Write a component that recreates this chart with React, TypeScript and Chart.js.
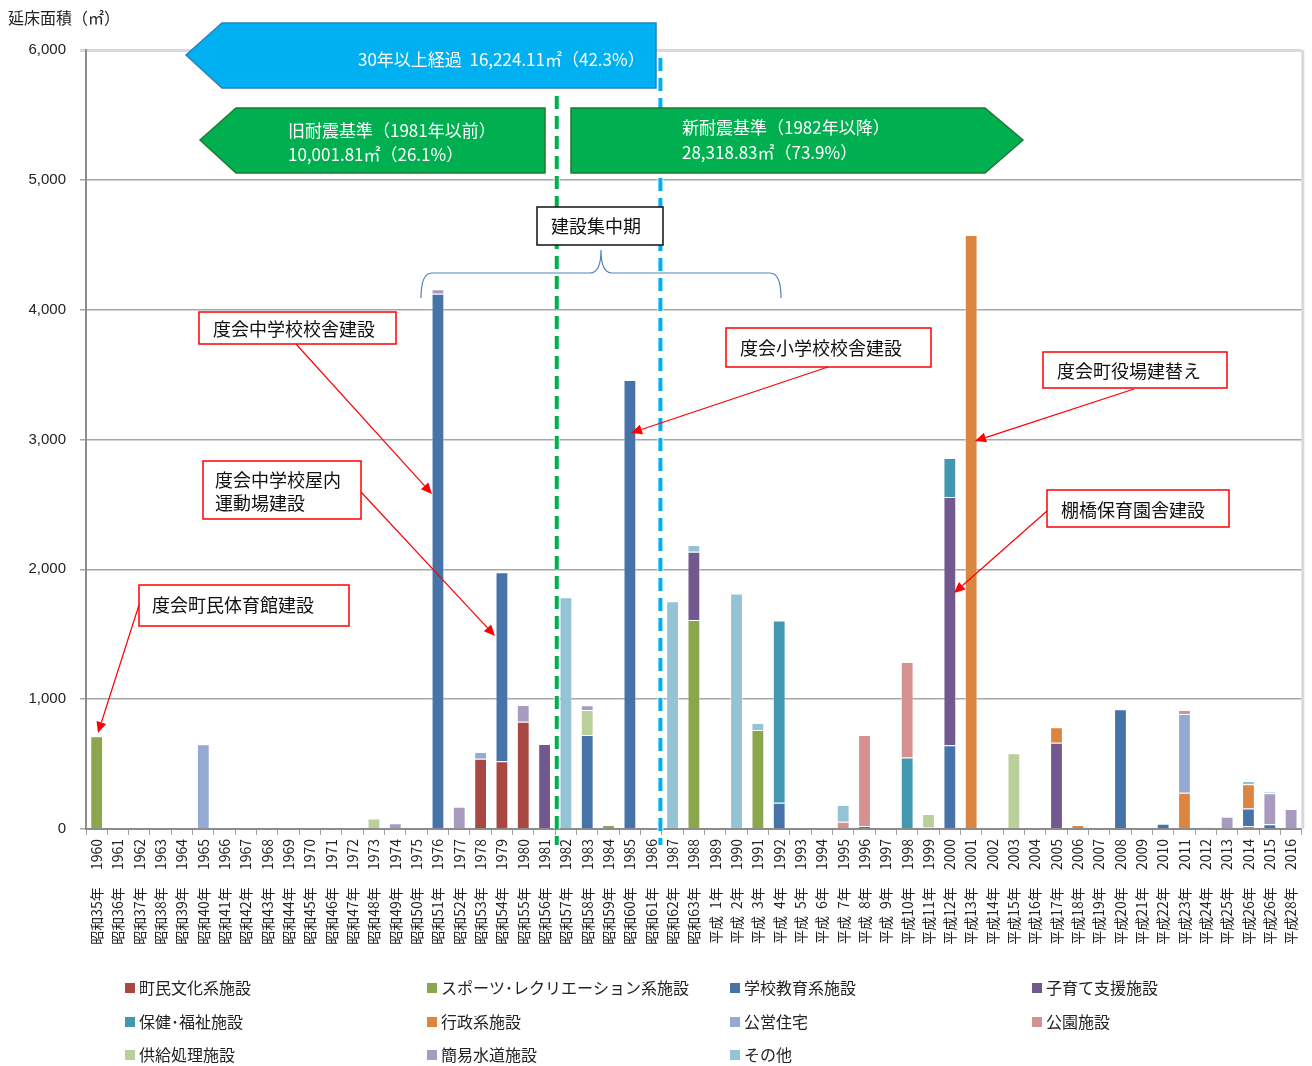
import { useEffect, useRef } from 'react';
import { Chart, registerables } from 'chart.js';

Chart.register(...registerables);

// ---------- DATA ----------
const years = [
  1960, 1961, 1962, 1963, 1964, 1965, 1966, 1967, 1968, 1969,
  1970, 1971, 1972, 1973, 1974, 1975, 1976, 1977, 1978, 1979,
  1980, 1981, 1982, 1983, 1984, 1985, 1986, 1987, 1988, 1989,
  1990, 1991, 1992, 1993, 1994, 1995, 1996, 1997, 1998, 1999,
  2000, 2001, 2002, 2003, 2004, 2005, 2006, 2007, 2008, 2009,
  2010, 2011, 2012, 2013, 2014, 2015, 2016,
];

const eraLabels = [
  '昭和35年', '昭和36年', '昭和37年', '昭和38年', '昭和39年', '昭和40年', '昭和41年', '昭和42年', '昭和43年', '昭和44年',
  '昭和45年', '昭和46年', '昭和47年', '昭和48年', '昭和49年', '昭和50年', '昭和51年', '昭和52年', '昭和53年', '昭和54年',
  '昭和55年', '昭和56年', '昭和57年', '昭和58年', '昭和59年', '昭和60年', '昭和61年', '昭和62年', '昭和63年', '平成\u20021年',
  '平成\u20022年', '平成\u20023年', '平成\u20024年', '平成\u20025年', '平成\u20026年', '平成\u20027年', '平成\u20028年', '平成\u20029年', '平成10年', '平成11年',
  '平成12年', '平成13年', '平成14年', '平成15年', '平成16年', '平成17年', '平成18年', '平成19年', '平成20年', '平成21年',
  '平成22年', '平成23年', '平成24年', '平成25年', '平成26年', '平成26年', '平成28年',
];

const yTicks = [0, 1000, 2000, 3000, 4000, 5000, 6000];

// floor area (㎡) by year, per facility category
const chominBunka: Record<number, number> = { 1978: 542, 1979: 521, 1980: 827 };
const sports: Record<number, number> = { 1960: 714, 1984: 31, 1988: 1610, 1991: 763, 2014: 23 };
const gakko: Record<number, number> = {
  1976: 4122, 1979: 1457, 1983: 724, 1985: 3459, 1992: 203, 1996: 23,
  2000: 645, 2008: 922, 2010: 41, 2014: 134, 2015: 36,
};
const kosodate: Record<number, number> = { 1981: 655, 1988: 526, 2000: 1913, 2005: 665 };
const hoken: Record<number, number> = { 1992: 1402, 1998: 550, 2000: 300 };
const gyosei: Record<number, number> = { 2001: 4576, 2005: 118, 2006: 31, 2011: 280, 2014: 187 };
const koei: Record<number, number> = { 1965: 652, 1978: 51, 2011: 606 };
const koen: Record<number, number> = { 1995: 56, 1996: 701, 1998: 737, 1999: 15, 2011: 31 };
const kyokyu: Record<number, number> = { 1973: 80, 1983: 193, 1999: 100, 2003: 583 };
const suido: Record<number, number> = {
  1972: 10, 1974: 45, 1976: 36, 1977: 172, 1980: 128, 1983: 36,
  2012: 12, 2013: 95, 2015: 239, 2016: 154,
};
const sonota: Record<number, number> = {
  1982: 1785, 1987: 1754, 1988: 52, 1990: 1813, 1991: 54, 1995: 129, 2014: 26, 2015: 12,
};

const seriesNames = [
  '町民文化系施設', 'スポーツ･レクリエーション系施設', '学校教育系施設', '子育て支援施設',
  '保健･福祉施設', '行政系施設', '公営住宅', '公園施設',
  '供給処理施設', '簡易水道施設', 'その他',
];
const seriesValues = [chominBunka, sports, gakko, kosodate, hoken, gyosei, koei, koen, kyokyu, suido, sonota];

// ---------- STYLE ----------
const seriesColors = [
  '#A94743', '#8BA64C', '#4673A8', '#71598F',
  '#4298AF', '#DC8541', '#95AAD2', '#D49190',
  '#BACF99', '#A99BBF', '#93C3D5',
];

const JP = "'Noto Sans CJK JP', 'Noto Sans', sans-serif";

function toSeries(m: Record<number, number>) {
  return years.map((y) => (m[y] !== undefined ? m[y] : null));
}

function redArrow(ctx: CanvasRenderingContext2D, x1: number, y1: number, x2: number, y2: number) {
  const ang = Math.atan2(y2 - y1, x2 - x1);
  const len = 11;
  const w = 5;
  const bx = x2 - Math.cos(ang) * len;
  const by = y2 - Math.sin(ang) * len;
  ctx.save();
  ctx.strokeStyle = '#FF0000';
  ctx.fillStyle = '#FF0000';
  ctx.lineWidth = 1.2;
  ctx.beginPath();
  ctx.moveTo(x1, y1);
  ctx.lineTo(bx, by);
  ctx.stroke();
  ctx.beginPath();
  ctx.moveTo(x2, y2);
  ctx.lineTo(bx + Math.sin(ang) * w, by - Math.cos(ang) * w);
  ctx.lineTo(bx - Math.sin(ang) * w, by + Math.cos(ang) * w);
  ctx.closePath();
  ctx.fill();
  ctx.restore();
}

function callout(ctx: CanvasRenderingContext2D, x: number, y: number, w: number, h: number, lines: string[], tx: number, ty: number[], border = '#FF0000') {
  ctx.save();
  ctx.fillStyle = '#FFFFFF';
  ctx.fillRect(x, y, w, h);
  ctx.strokeStyle = border;
  ctx.lineWidth = 1.5;
  ctx.strokeRect(x, y, w, h);
  ctx.fillStyle = '#111';
  ctx.font = `18px ${JP}`;
  ctx.textAlign = 'left';
  ctx.textBaseline = 'middle';
  lines.forEach((l, i) => ctx.fillText(l, tx, ty[i]));
  ctx.restore();
}

function pentagon(ctx: CanvasRenderingContext2D, pts: number[][], fill: string, stroke: string) {
  ctx.save();
  ctx.beginPath();
  pts.forEach((p, i) => (i === 0 ? ctx.moveTo(p[0], p[1]) : ctx.lineTo(p[0], p[1])));
  ctx.closePath();
  ctx.fillStyle = fill;
  ctx.fill();
  ctx.strokeStyle = stroke;
  ctx.lineWidth = 1.5;
  ctx.stroke();
  ctx.restore();
}

function dashed(ctx: CanvasRenderingContext2D, x: number, y1: number, y2: number, color: string) {
  ctx.save();
  ctx.setLineDash([13, 7]);
  ctx.lineCap = 'butt';
  ctx.strokeStyle = 'rgba(255,255,255,0.9)';
  ctx.lineWidth = 6;
  ctx.beginPath();
  ctx.moveTo(x, y1);
  ctx.lineTo(x, y2);
  ctx.stroke();
  ctx.strokeStyle = color;
  ctx.lineWidth = 4;
  ctx.beginPath();
  ctx.moveTo(x, y1);
  ctx.lineTo(x, y2);
  ctx.stroke();
  ctx.restore();
}

const overlayPlugin = {
  id: 'overlay',
  afterDatasetsDraw(chart: any) {
    const ctx: CanvasRenderingContext2D = chart.ctx;
    const xs = chart.scales.x;
    const area = chart.chartArea;
    // right plot border
    ctx.save();
    ctx.strokeStyle = '#D9D9D9';
    ctx.lineWidth = 3;
    ctx.beginPath();
    ctx.moveTo(area.right + 1, area.top);
    ctx.lineTo(area.right + 1, area.bottom);
    ctx.stroke();
    ctx.restore();

    const boundary = (i: number) => (xs.getPixelForValue(i) + xs.getPixelForValue(i + 1)) / 2;
    dashed(ctx, boundary(21) + 1.5, 96, area.bottom + 16, '#00B050');
    dashed(ctx, boundary(26) - 1.5, 58, area.bottom + 16, '#00B0F0');
  },
  afterDraw(chart: any) {
    const ctx: CanvasRenderingContext2D = chart.ctx;

    // axis title
    ctx.save();
    ctx.fillStyle = '#222';
    ctx.font = `16px ${JP}`;
    ctx.textAlign = 'left';
    ctx.textBaseline = 'middle';
    ctx.fillText('延床面積（㎡）', 8, 18);
    ctx.restore();

    // blue arrow (30年以上経過)
    pentagon(ctx, [[186, 55], [222, 23], [656, 23], [656, 88], [222, 88]], '#00B0F0', '#2A7FC0');
    // green arrows
    pentagon(ctx, [[200, 140], [236, 108], [545, 108], [545, 173], [236, 173]], '#00B050', '#1F7A2E');
    pentagon(ctx, [[571, 108], [985, 108], [1023, 140], [985, 173], [571, 173]], '#00B050', '#1F7A2E');

    ctx.save();
    ctx.fillStyle = '#FFFFFF';
    ctx.font = `17px ${JP}`;
    ctx.textAlign = 'left';
    ctx.textBaseline = 'middle';
    ctx.fillText('30年以上経過  16,224.11㎡（42.3%）', 358, 60);
    ctx.fillText('旧耐震基準（1981年以前）', 288, 131);
    ctx.fillText('10,001.81㎡（26.1%）', 288, 155);
    ctx.fillText('新耐震基準（1982年以降）', 682, 128);
    ctx.fillText('28,318.83㎡（73.9%）', 682, 153);
    ctx.restore();

    // 建設集中期 box + brace
    callout(ctx, 537, 207, 126, 38, ['建設集中期'], 551, [226], '#111');
    ctx.save();
    ctx.strokeStyle = '#4F81BD';
    ctx.lineWidth = 1.2;
    ctx.beginPath();
    ctx.moveTo(421, 298);
    ctx.quadraticCurveTo(421, 273, 432, 273);
    ctx.lineTo(590, 273);
    ctx.quadraticCurveTo(601, 273, 601, 250);
    ctx.quadraticCurveTo(601, 273, 612, 273);
    ctx.lineTo(770, 273);
    ctx.quadraticCurveTo(781, 273, 781, 298);
    ctx.stroke();
    ctx.restore();

    // red callouts
    callout(ctx, 199, 312, 197, 32, ['度会中学校校舎建設'], 213, [329]);
    redArrow(ctx, 296, 344, 432, 494);
    callout(ctx, 203, 461, 158, 58, ['度会中学校屋内', '運動場建設'], 215, [480, 503]);
    redArrow(ctx, 361, 492, 495, 636);
    callout(ctx, 139, 585, 210, 41, ['度会町民体育館建設'], 152, [605]);
    redArrow(ctx, 139, 605, 98, 733);
    callout(ctx, 726, 328, 205, 39, ['度会小学校校舎建設'], 740, [348]);
    redArrow(ctx, 828, 367, 631, 433);
    callout(ctx, 1043, 352, 184, 36, ['度会町役場建替え'], 1057, [371]);
    redArrow(ctx, 1134, 389, 975, 441);
    callout(ctx, 1047, 490, 182, 37, ['棚橋保育園舎建設'], 1061, [510]);
    redArrow(ctx, 1047, 511, 954, 593);

    // legend
    const cols = [125, 427, 730, 1032];
    const rows = [988, 1022, 1055];
    ctx.save();
    ctx.font = `16px ${JP}`;
    ctx.textAlign = 'left';
    ctx.textBaseline = 'middle';
    chart.data.datasets.forEach((ds: any, i: number) => {
      const cx = cols[i % 4];
      const cy = rows[Math.floor(i / 4)];
      ctx.fillStyle = ds.backgroundColor;
      ctx.fillRect(cx, cy - 5, 10, 10);
      ctx.fillStyle = '#222';
      ctx.fillText(ds.label, cx + 14, cy);
    });
    ctx.restore();
  },
};

export default function App() {
  const ref = useRef<HTMLCanvasElement | null>(null);

  useEffect(() => {
    document.body.style.margin = '0';
    const canvas = ref.current;
    if (!canvas) return;
    const chart = new Chart(canvas, {
      type: 'bar',
      data: {
        labels: years.map((y) => String(y)),
        datasets: seriesNames.map((name, i) => ({
          label: name,
          data: toSeries(seriesValues[i]),
          backgroundColor: seriesColors[i],
          borderColor: 'rgba(255,255,255,0.55)',
          borderWidth: 1,
          barPercentage: 0.6,
          categoryPercentage: 1.0,
        })),
      },
      options: {
        responsive: false,
        animation: false,
        layout: { padding: { left: 0, top: 50, right: 9, bottom: 0 } },
        plugins: {
          legend: { display: false },
          tooltip: { enabled: false },
          title: { display: false },
        },
        scales: {
          x: {
            stacked: true,
            grid: {
              display: true,
              drawOnChartArea: false,
              drawTicks: true,
              tickLength: 6,
              color: '#A0A0A0',
              lineWidth: 1,
            },
            border: { display: true, color: '#8C8C8C', width: 2 },
            ticks: {
              autoSkip: false,
              maxRotation: 90,
              minRotation: 90,
              padding: 4,
              color: '#222',
              font: { family: JP, size: 14 },
              callback: (_v: any, idx: number) => `${eraLabels[idx]}　 ${years[idx]}`,
            },
            afterFit: (s: any) => {
              s.height = 237;
            },
          },
          y: {
            stacked: true,
            min: yTicks[0],
            max: yTicks[yTicks.length - 1],
            afterBuildTicks: (s: any) => {
              s.ticks = yTicks.map((v) => ({ value: v }));
            },
            ticks: {
              padding: 14,
              color: '#222',
              font: { family: "'Liberation Sans', Arial, sans-serif", size: 15 },
              callback: (v: any) => Number(v).toLocaleString('en-US'),
            },
            grid: {
              drawTicks: true,
              tickLength: 6,
              color: (c: any) => (c.tick && c.tick.value === 6000 ? '#D9D9D9' : '#A6A6A6'),
              lineWidth: (c: any) => (c.tick && c.tick.value === 6000 ? 3 : 1.5),
            },
            border: { display: true, color: '#8C8C8C', width: 2 },
            afterFit: (s: any) => {
              s.width = 86;
            },
          },
        },
      },
      plugins: [overlayPlugin],
    });
    return () => chart.destroy();
  }, []);

  return (
    <div style={{ width: 1312, height: 1066, background: '#FFFFFF' }}>
      <canvas ref={ref} width={1312} height={1066} />
    </div>
  );
}
